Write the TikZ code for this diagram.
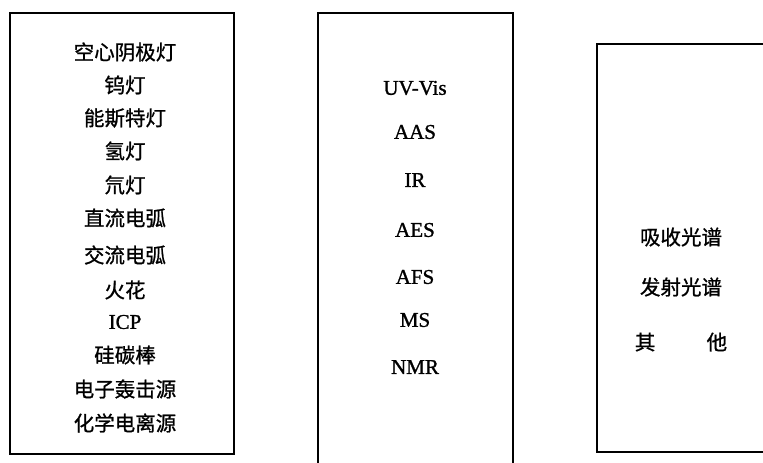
\documentclass[tikz,border=0pt]{standalone}
\usepackage{fontspec}
\setmainfont{Liberation Serif}[FakeBold=1.2]
\newfontfamily\cjk{Noto Sans CJK SC}[FakeBold=1.0]
\begin{document}
\begin{tikzpicture}[x=1pt,y=-1pt,
	zh/.style={font=\cjk\fontsize{20.5}{20.5}\selectfont,inner sep=0pt},
	en/.style={font=\fontsize{21}{21}\selectfont,inner sep=0pt},
	frame/.style={draw,line width=1.1pt}]
  \clip (0,0) rectangle (763,463);
	\draw[frame] (10,13) rectangle (234,454);
	\draw[frame] (318,13) rectangle (513,470);
	\draw[frame] (597,44) rectangle (780,452);
	% sources
	\node[zh] (hcl)   at (125, 52) {空心阴极灯};
	\node[zh] (wlamp) at (125, 85) {钨灯};
	\node[zh] (nern)  at (125,118) {能斯特灯};
	\node[zh] (hlamp) at (125,151) {氢灯};
	\node[zh] (dlamp) at (125,185) {氘灯};
	\node[zh] (dcarc) at (125,218) {直流电弧};
	\node[zh] (acarc) at (125,255) {交流电弧};
	\node[zh] (spark) at (125,290) {火花};
	\node[en] (icp)   at (125,322) {ICP};
	\node[zh] (glow)  at (125,355) {硅碳棒};
	\node[zh] (ei)    at (125,389) {电子轰击源};
	\node[zh] (ci)    at (125,423) {化学电离源};
	% methods
	\node[en] (uvvis) at (415, 88) {UV-Vis};
	\node[en] (aas)   at (415,132) {AAS};
	\node[en] (ir)    at (415,180) {IR};
	\node[en] (aes)   at (415,230) {AES};
	\node[en] (afs)   at (415,277) {AFS};
	\node[en] (ms)    at (415,320) {MS};
	\node[en] (nmr)   at (415,367) {NMR};
	% types
	\node[zh] (absorb) at (681,237) {吸收光谱};
	\node[zh] (emit)   at (681,287) {发射光谱};
	\node[zh] (other)  at (681,342) {其\hspace{2.5em}他};
\end{tikzpicture}
\end{document}
